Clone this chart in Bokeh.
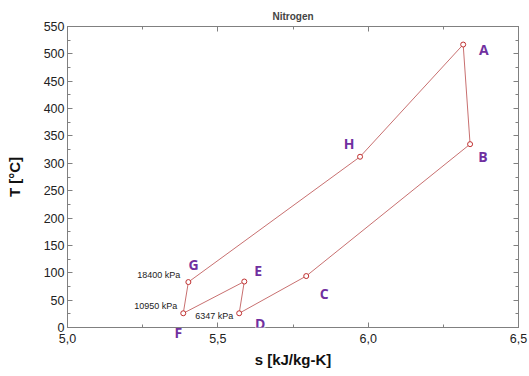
from bokeh.plotting import figure
from bokeh.models import LinearAxis, Range1d, Label, FixedTicker, ColumnDataSource
from bokeh.embed import file_html
from bokeh.resources import INLINE
from bokeh.core.properties import value

# State points of the cycle (closed A-B-C-D-E-F-G-H-A)
points = ["A", "B", "C", "D", "E", "F", "G", "H"]
s_vals = [6.316, 6.339, 5.794, 5.571, 5.588, 5.385, 5.402, 5.973]
T_vals = [517, 335, 94, 26, 84, 26, 83, 312]

# Letter label positions (F sits below the s axis)
label_s = [6.385, 6.382, 5.854, 5.641, 5.634, 5.369, 5.419, 5.937]
label_T = [508, 312, 63, 7, 104, -12, 116, 336]

# Pressure annotations
press_text = ["18400 kPa", "10950 kPa", "6347 kPa"]
press_s = [5.375, 5.365, 5.425]
press_T = [96, 40, 21]
press_align = ["right", "right", "left"]

x_ticks = [5.0, 5.5, 6.0, 6.5]
x_tick_labels = ["5,0", "5,5", "6,0", "6,5"]
y_ticks = list(range(0, 551, 50))

PURPLE = "#7030a0"

W, H = 529, 376
p = figure(width=W, height=H, output_backend="svg", toolbar_location=None,
           x_range=Range1d(5.0, 6.5), y_range=Range1d(0, 550),
           min_border_left=67, min_border_right=11, min_border_top=26,
           min_border_bottom=49, title="Nitrogen")
p.title.align = "center"
p.title.text_font = "Liberation Sans"
p.title.text_font_size = "10px"
p.title.text_font_style = "bold"
p.title.offset = 0
p.title.standoff = 10
p.xgrid.visible = False
p.ygrid.visible = False
p.outline_line_color = "#808080"
p.background_fill_color = "white"
p.border_fill_color = "white"

frame_col = "#808080"

def style_axis(ax, labels=True):
    ax.axis_line_color = frame_col
    ax.major_tick_line_color = frame_col
    ax.minor_tick_line_color = frame_col
    ax.major_tick_in = 5
    ax.major_tick_out = 0
    ax.minor_tick_in = 3
    ax.minor_tick_out = 0
    ax.major_label_text_font = "Liberation Sans"
    ax.major_label_text_font_size = "12.5px"
    ax.major_label_text_color = "#222222"
    ax.axis_label_text_font = "Liberation Sans"
    ax.axis_label_text_font_style = "bold"
    ax.axis_label_text_font_size = "15px"
    ax.axis_label_text_color = "#111111"
    if not labels:
        ax.major_label_text_font_size = "1px"
        ax.major_label_text_color = None
        ax.major_label_standoff = 0
        ax.axis_label_standoff = 0

xt = FixedTicker(ticks=x_ticks, minor_ticks=[5.0 + 0.25 * i for i in range(7)])
yt = FixedTicker(ticks=y_ticks, minor_ticks=list(range(0, 551, 25)))

xa = p.xaxis[0]
xa.ticker = xt
xa.major_label_overrides = {t: l for t, l in zip(x_ticks, x_tick_labels)}
xa.axis_label = "s [kJ/kg-K]"
style_axis(xa)
xa.major_label_standoff = 6
xa.axis_label_standoff = 5

ya = p.yaxis[0]
ya.ticker = yt
ya.axis_label = "T [°C]"
style_axis(ya)
ya.major_label_standoff = 3
ya.axis_label_standoff = 18

ra = LinearAxis(ticker=yt)
style_axis(ra, labels=False)
p.add_layout(ra, "right")
ta = LinearAxis(ticker=xt)
style_axis(ta, labels=False)
p.add_layout(ta, "above")

cyc_s = s_vals + [s_vals[0]]
cyc_T = T_vals + [T_vals[0]]
p.line(cyc_s, cyc_T, line_color="#c87070", line_width=1)
p.scatter(s_vals, T_vals, marker="circle", size=5, fill_color="white",
          line_color="#c03030", line_width=1)

for name, sx, ty in zip(points, label_s, label_T):
    if ty < 0:
        # label below the axis: drawn as the tick label of a bare extra axis
        fa = LinearAxis(ticker=FixedTicker(ticks=[sx], minor_ticks=[]),
                        major_label_overrides={sx: name})
        fa.axis_line_color = None
        fa.major_tick_line_color = None
        fa.minor_tick_line_color = None
        fa.major_tick_in = 0
        fa.major_tick_out = 0
        fa.major_label_text_font = "Open Sans"
        fa.major_label_text_font_style = "bold"
        fa.major_label_text_font_size = "14px"
        fa.major_label_text_color = PURPLE
        fa.major_label_standoff = -48
        if hasattr(fa, "major_label_background_fill_color"):
            fa.major_label_background_fill_color = "white"
        p.add_layout(fa, "below")
        continue
    lab = Label(x=sx, y=ty, text=name, text_color=PURPLE,
                text_font="Open Sans", text_font_style="bold",
                text_font_size="14px", text_align="center",
                text_baseline="middle",
                background_fill_color="white" if ty < 15 else None)
    p.add_layout(lab)

src = ColumnDataSource(dict(x=press_s, y=press_T, t=press_text, a=press_align))
p.text(x="x", y="y", text="t", source=src, text_align="a",
       text_baseline="middle", text_font=value("Liberation Sans"),
       text_font_size="9px", text_color="#222222")

open("out.html", "w").write(file_html(p, INLINE))
